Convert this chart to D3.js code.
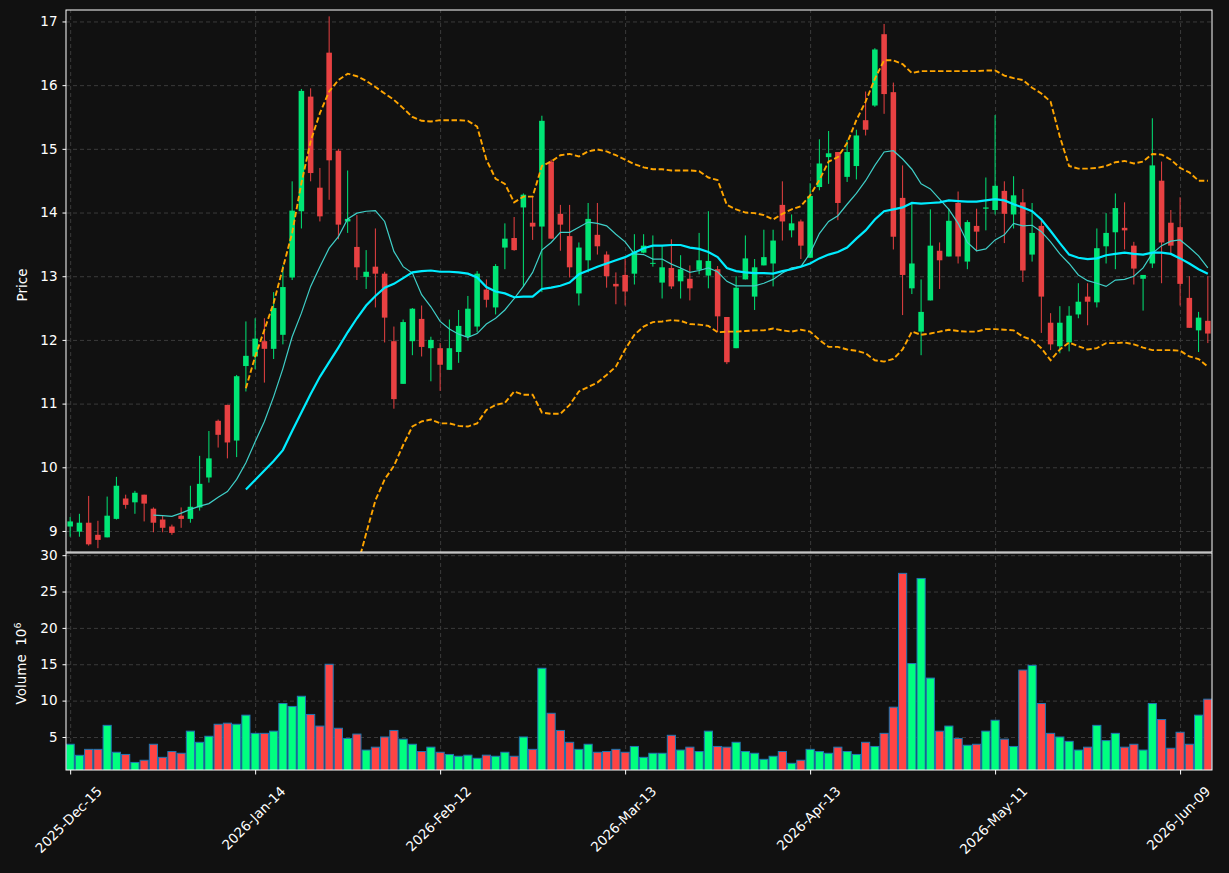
<!DOCTYPE html>
<html>
<head>
<meta charset="utf-8">
<script src="https://cdn.jsdelivr.net/npm/d3@7"></script>
<style>
  html, body { margin: 0; padding: 0; background: #111111; }
  svg { display: block; font-family: "DejaVu Sans", sans-serif; }
</style>
</head>
<body>
<div id="chart"></div>
<script>
// x tick positions (bar index) and their labels
const tickIndex = [0, 20, 40, 60, 80, 100, 120];
const tickLabels = ["2025-Dec-15", "2026-Jan-14", "2026-Feb-12", "2026-Mar-13", "2026-Apr-13", "2026-May-11", "2026-Jun-09"];
const priceTicks = [9, 10, 11, 12, 13, 14, 15, 16, 17];
const volumeTicks = [5, 10, 15, 20, 25, 30];

const opens = [
    9.07, 8.99, 9.13, 8.94, 8.90, 9.19, 9.51, 9.45, 9.57, 9.35,
    9.18, 9.07, 9.24, 9.19, 9.37, 9.84, 10.73, 10.98, 10.42, 11.59,
    11.74, 11.98, 11.86, 12.08, 12.98, 14.02, 15.82, 14.39, 16.51, 14.97,
    13.86, 13.46, 12.99, 13.15, 13.04, 11.98, 11.31, 11.98, 12.33, 11.87,
    11.87, 11.53, 11.81, 12.05, 12.21, 12.79, 12.51, 13.45, 13.60, 14.08,
    13.84, 13.78, 14.80, 13.98, 13.63, 12.73, 13.25, 13.65, 13.34, 12.88,
    13.02, 13.04, 13.37, 13.20, 12.90, 13.13, 12.92, 12.96, 13.10, 13.01,
    13.11, 12.36, 11.87, 12.95, 12.68, 13.17, 13.20, 14.12, 13.72, 13.86,
    13.29, 14.40, 14.87, 14.95, 14.56, 14.73, 15.45, 15.68, 16.80, 15.89,
    14.23, 12.81, 12.13, 12.62, 13.40, 13.31, 14.15, 13.23, 13.79, 14.06,
    14.04, 14.34, 13.97, 14.16, 13.34, 13.79, 12.27, 11.90, 11.96, 12.40,
    12.68, 12.59, 13.47, 13.69, 13.76, 13.48, 12.96, 13.20, 14.50, 13.84,
    13.77, 12.66, 12.15, 12.30
];
const highs = [
    9.22, 9.27, 9.55, 9.16, 9.54, 9.85, 9.57, 9.63, 9.57, 9.37,
    9.24, 9.10, 9.37, 9.71, 10.18, 10.57, 10.75, 10.98, 11.45, 12.29,
    12.34, 12.34, 12.75, 13.17, 14.49, 15.94, 15.95, 14.70, 17.08, 15.00,
    14.66, 13.96, 13.41, 13.75, 13.07, 12.21, 12.32, 12.50, 12.54, 12.05,
    11.95, 12.32, 12.47, 12.69, 13.08, 12.95, 13.19, 13.83, 13.93, 14.30,
    14.25, 15.52, 14.83, 14.12, 14.12, 13.53, 14.15, 14.15, 13.39, 13.06,
    13.28, 13.66, 13.66, 13.64, 13.47, 13.58, 13.33, 13.17, 13.68, 14.02,
    13.16, 12.36, 13.00, 13.64, 13.27, 13.73, 13.73, 14.49, 13.97, 13.89,
    14.46, 15.15, 15.28, 14.95, 15.14, 15.30, 15.90, 16.58, 16.96, 16.04,
    14.74, 14.14, 12.95, 14.05, 13.53, 14.06, 14.33, 13.88, 14.06, 14.55,
    15.53, 14.49, 14.57, 14.37, 14.15, 13.87, 12.42, 12.53, 12.53, 12.89,
    12.89, 13.75, 13.99, 14.30, 14.16, 13.54, 13.02, 15.48, 14.80, 14.04,
    14.24, 13.00, 12.44, 13.00
];
const lows = [
    8.91, 8.91, 8.77, 8.73, 8.90, 9.18, 9.35, 9.27, 9.15, 8.98,
    8.98, 8.94, 9.05, 9.13, 9.32, 9.76, 10.31, 10.14, 10.16, 11.19,
    11.54, 11.33, 11.70, 11.93, 12.94, 13.75, 14.49, 13.86, 14.20, 13.58,
    13.68, 12.94, 12.80, 12.51, 11.96, 10.92, 11.31, 11.76, 11.74, 11.35,
    11.20, 11.53, 11.64, 11.99, 12.12, 12.51, 12.40, 13.11, 13.40, 12.83,
    13.57, 12.75, 13.59, 13.40, 12.98, 12.54, 13.06, 13.34, 12.82, 12.56,
    12.54, 12.87, 13.36, 13.15, 12.65, 12.80, 12.65, 12.62, 13.03, 12.81,
    12.12, 11.62, 11.87, 12.95, 12.47, 13.17, 12.84, 13.56, 13.61, 13.27,
    13.29, 14.35, 14.45, 13.88, 14.48, 14.52, 15.21, 15.66, 15.55, 13.42,
    12.39, 12.72, 11.76, 12.62, 12.80, 13.31, 13.20, 13.11, 13.39, 13.72,
    13.97, 13.52, 13.75, 12.91, 13.23, 12.11, 11.84, 11.79, 11.82, 12.34,
    12.23, 12.51, 13.20, 13.11, 13.42, 12.87, 12.46, 13.13, 12.89, 13.35,
    12.54, 12.19, 11.81, 11.95
];
const closes = [
    9.15, 9.13, 8.79, 8.86, 9.24, 9.71, 9.41, 9.60, 9.43, 9.13,
    9.05, 8.97, 9.19, 9.38, 9.74, 10.14, 10.51, 10.39, 11.43, 11.75,
    12.02, 11.86, 12.50, 12.83, 14.03, 15.91, 14.62, 13.94, 14.82, 13.81,
    13.90, 13.14, 13.07, 13.04, 12.35, 11.07, 12.28, 12.49, 11.89, 12.00,
    11.61, 11.87, 12.22, 12.49, 13.04, 12.63, 13.16, 13.59, 13.41, 14.28,
    13.78, 15.44, 13.59, 13.81, 13.14, 13.45, 13.90, 13.47, 13.00, 12.84,
    12.76, 13.39, 13.48, 13.21, 13.14, 12.84, 13.11, 12.81, 13.25, 13.24,
    12.37, 11.65, 12.82, 13.28, 13.14, 13.30, 13.56, 13.86, 13.83, 13.48,
    14.26, 14.77, 14.93, 14.15, 14.95, 15.21, 15.30, 16.56, 15.86, 13.62,
    13.02, 13.20, 12.44, 13.48, 13.25, 13.87, 13.31, 13.85, 13.70, 14.08,
    14.42, 13.98, 14.27, 13.09, 13.68, 12.68, 11.93, 12.27, 12.38, 12.60,
    12.60, 13.44, 13.68, 14.07, 13.72, 13.12, 13.02, 14.74, 13.53, 13.48,
    12.88, 12.19, 12.35, 12.10
];
// volume in millions
const volumes = [
    4.0, 2.48, 3.3, 3.3, 6.6, 2.9, 2.6, 1.5, 1.8, 4.0,
    2.2, 3.0, 2.76, 5.8, 4.27, 5.1, 6.75, 6.9, 6.75, 8.0,
    5.5, 5.5, 5.8, 9.6, 9.2, 10.6, 8.1, 6.5, 15.0, 6.2,
    4.8, 5.4, 3.2, 3.6, 5.0, 5.9, 4.7, 4.0, 3.0, 3.6,
    2.9, 2.6, 2.35, 2.5, 2.07, 2.5, 2.35, 2.9, 2.35, 5.0,
    3.3, 14.45, 8.26, 5.9, 4.27, 3.3, 4.0, 2.9, 3.0, 3.3,
    2.9, 3.7, 2.2, 2.76, 2.76, 5.23, 3.2, 3.6, 3.0, 5.8,
    3.7, 3.6, 4.27, 3.0, 2.76, 1.93, 2.35, 3.0, 1.38, 1.8,
    3.3, 3.0, 2.76, 3.6, 3.0, 2.6, 4.27, 3.7, 5.5, 9.1,
    27.5, 15.1, 26.8, 13.1, 5.8, 6.5, 4.8, 3.86, 4.0, 5.8,
    7.3, 4.7, 3.7, 14.2, 14.85, 9.6, 5.5, 5.0, 4.4, 3.2,
    3.6, 6.6, 4.5, 5.5, 3.6, 4.0, 3.2, 9.6, 7.4, 3.45,
    5.65, 4.0, 8.0, 10.2
];

// indicator lines (null where not drawn)
const maFast = [
    null, null, null, null, null, null, null, null, null, 9.25,
    9.24, 9.23, 9.28, 9.34, 9.39, 9.43, 9.53, 9.62, 9.81, 10.07,
    10.40, 10.72, 11.11, 11.55, 12.05, 12.42, 12.84, 13.15, 13.44, 13.62,
    13.90, 13.99, 14.02, 14.03, 13.86, 13.39, 13.15, 13.05, 12.71, 12.52,
    12.29, 12.17, 12.09, 12.04, 12.10, 12.25, 12.34, 12.47, 12.65, 12.84,
    13.06, 13.41, 13.53, 13.69, 13.69, 13.77, 13.85, 13.83, 13.79, 13.66,
    13.54, 13.35, 13.34, 13.27, 13.27, 13.19, 13.13, 13.06, 13.09, 13.13,
    13.07, 12.92, 12.85, 12.85, 12.85, 12.89, 12.95, 13.05, 13.13, 13.15,
    13.36, 13.67, 13.86, 13.95, 14.13, 14.30, 14.50, 14.74, 14.95, 14.97,
    14.84, 14.68, 14.45, 14.37, 14.21, 14.05, 13.83, 13.53, 13.40, 13.43,
    13.57, 13.65, 13.83, 13.79, 13.80, 13.70, 13.54, 13.35, 13.20, 13.02,
    12.93, 12.89, 12.84, 12.94, 12.95, 13.00, 13.13, 13.36, 13.48, 13.55,
    13.57, 13.45, 13.32, 13.13
];
const maSlow = [
    null, null, null, null, null, null, null, null, null, null,
    null, null, null, null, null, null, null, null, null, 9.65,
    9.80, 9.95, 10.10, 10.27, 10.57, 10.86, 11.15, 11.42, 11.65, 11.88,
    12.12, 12.34, 12.54, 12.69, 12.82, 12.88, 12.97, 13.06, 13.08, 13.09,
    13.07, 13.07, 13.06, 13.04, 12.98, 12.83, 12.76, 12.73, 12.67, 12.68,
    12.68, 12.80, 12.82, 12.85, 12.90, 13.03, 13.09, 13.15, 13.20, 13.25,
    13.30, 13.37, 13.44, 13.48, 13.48, 13.49, 13.49, 13.45, 13.43, 13.38,
    13.30, 13.13, 13.08, 13.06, 13.05, 13.05, 13.04, 13.08, 13.11, 13.15,
    13.20, 13.28, 13.34, 13.38, 13.45, 13.59, 13.72, 13.89, 14.02, 14.05,
    14.08, 14.15, 14.14, 14.15, 14.16, 14.19, 14.18, 14.17, 14.17, 14.19,
    14.21, 14.19, 14.13, 14.08, 14.02, 13.89, 13.71, 13.52, 13.34, 13.29,
    13.27, 13.28, 13.33, 13.35, 13.37, 13.35, 13.34, 13.37, 13.37, 13.35,
    13.28, 13.20, 13.11, 13.04
];
const bandUpper = [
    null, null, null, null, null, null, null, null, null, null,
    null, null, null, null, null, null, null, null, null, 11.24,
    11.74, 12.16, 12.58, 13.13, 13.68, 14.46, 15.12, 15.56, 15.90, 16.08,
    16.18, 16.14, 16.07, 15.97, 15.87, 15.77, 15.64, 15.50, 15.44, 15.43,
    15.45, 15.45, 15.45, 15.44, 15.35, 14.83, 14.53, 14.45, 14.16, 14.25,
    14.25, 14.73, 14.80, 14.90, 14.92, 14.88, 14.96, 14.99, 14.96, 14.90,
    14.83, 14.76, 14.71, 14.68, 14.68, 14.66, 14.66, 14.66, 14.65, 14.55,
    14.51, 14.12, 14.05, 14.00, 13.99, 13.96, 13.89, 13.98, 14.05, 14.10,
    14.27, 14.51, 14.80, 14.87, 15.09, 15.45, 15.74, 16.10, 16.39, 16.39,
    16.33, 16.19, 16.22, 16.22, 16.22, 16.22, 16.22, 16.22, 16.22, 16.23,
    16.23, 16.15, 16.11, 16.08, 15.96, 15.87, 15.74, 15.19, 14.73, 14.69,
    14.69, 14.70, 14.73, 14.79, 14.81, 14.77, 14.80, 14.92, 14.91, 14.83,
    14.70, 14.63, 14.50, 14.50
];
const bandLower = [
    null, null, null, null, null, null, null, null, null, null,
    null, null, null, null, null, null, null, null, null, 8.06,
    7.86, 7.74, 7.62, 7.41, 7.44, 7.34, 7.16, 7.24, 7.32, 7.58,
    7.96, 8.42, 8.96, 9.48, 9.81, 10.02, 10.35, 10.64, 10.72, 10.75,
    10.69, 10.69, 10.65, 10.64, 10.69, 10.90, 10.98, 11.01, 11.19, 11.14,
    11.14, 10.86, 10.84, 10.84, 10.98, 11.19, 11.26, 11.33, 11.45, 11.58,
    11.85, 12.08, 12.21, 12.28, 12.29, 12.31, 12.30, 12.25, 12.24, 12.22,
    12.12, 12.13, 12.13, 12.14, 12.15, 12.15, 12.18, 12.15, 12.13, 12.16,
    12.13, 12.00, 11.89, 11.89, 11.85, 11.83, 11.79, 11.68, 11.66, 11.70,
    11.85, 12.13, 12.08, 12.10, 12.13, 12.16, 12.14, 12.13, 12.13, 12.17,
    12.17, 12.16, 12.15, 12.05, 12.00, 11.87, 11.68, 11.85, 11.96, 11.90,
    11.85, 11.87, 11.95, 11.95, 11.96, 11.93, 11.88, 11.84, 11.84, 11.84,
    11.83, 11.74, 11.70, 11.58
];

const W = 1229, H = 873;
const left = 66, right = 1212;
const priceTop = 10, priceBottom = 552;
const volTop = 553, volBottom = 770;

const upColor = "#00e676", downColor = "#e84142";
const volUp = "#00ff7f", volDown = "#ff4444";
const gridColor = "#3b3b3b";

const svg = d3.select("#chart")
    .append("svg")
    .attr("width", W)
    .attr("height", H);

svg.append("rect").attr("width", W).attr("height", H).attr("fill", "#111111");

const n = opens.length;
const x = d3.scaleLinear().domain([-0.45, n - 0.55]).range([left, right]);
const y = d3.scaleLinear().domain([8.67, 17.18]).range([priceBottom, priceTop]);
const yv = d3.scaleLinear().domain([0.46, 30.3]).range([volBottom, volTop]);
const step = x(1) - x(0);

const defs = svg.append("defs");
defs.append("clipPath").attr("id", "clipPrice")
    .append("rect").attr("x", left).attr("y", priceTop)
    .attr("width", right - left).attr("height", priceBottom - priceTop);
defs.append("clipPath").attr("id", "clipVol")
    .append("rect").attr("x", left).attr("y", volTop)
    .attr("width", right - left).attr("height", volBottom - volTop);

function createGrid(top, bottom, ys, ticks) {
    svg.append("g")
        .attr("transform", `translate(${left},0)`)
        .call(d3.axisLeft(ys).tickValues(ticks).tickSize(-(right - left)).tickFormat(""))
        .call(g => g.select(".domain").remove())
        .selectAll("line")
        .style("stroke", gridColor)
        .style("stroke-dasharray", "4,3");

    svg.append("g")
        .attr("transform", `translate(0,${bottom})`)
        .call(d3.axisBottom(x).tickValues(tickIndex).tickSize(-(bottom - top)).tickFormat(""))
        .call(g => g.select(".domain").remove())
        .selectAll("line")
        .style("stroke", gridColor)
        .style("stroke-dasharray", "4,3");
}

createGrid(priceTop, priceBottom, y, priceTicks);
createGrid(volTop, volBottom, yv, volumeTicks);

// candles
const idx = d3.range(n);
const candles = svg.append("g").attr("clip-path", "url(#clipPrice)");
const colorOf = i => closes[i] >= opens[i] ? upColor : downColor;

candles.selectAll(".wick")
    .data(idx)
    .enter()
    .append("line")
    .attr("class", "wick")
    .attr("x1", i => x(i)).attr("x2", i => x(i))
    .attr("y1", i => y(highs[i])).attr("y2", i => y(lows[i]))
    .attr("stroke", colorOf)
    .attr("stroke-width", 1);

const bodyW = step * 0.6;
candles.selectAll(".body")
    .data(idx)
    .enter()
    .append("rect")
    .attr("class", "body")
    .attr("x", i => x(i) - bodyW / 2)
    .attr("width", bodyW)
    .attr("y", i => y(Math.max(opens[i], closes[i])))
    .attr("height", i => Math.max(1, Math.abs(y(opens[i]) - y(closes[i]))))
    .attr("fill", colorOf);

// indicator lines
const line = d3.line()
    .defined(d => d != null)
    .x((d, i) => x(i))
    .y(d => y(d));

const lines = svg.append("g").attr("clip-path", "url(#clipPrice)");
lines.append("path").datum(maFast)
    .attr("d", line).attr("fill", "none")
    .attr("stroke", "#3fcfc8").attr("stroke-width", 1.2);
lines.append("path").datum(maSlow)
    .attr("d", line).attr("fill", "none")
    .attr("stroke", "#00ecff").attr("stroke-width", 2.2);
[bandUpper, bandLower].forEach(band => {
    lines.append("path").datum(band)
        .attr("d", line).attr("fill", "none")
        .attr("stroke", "#ffa500").attr("stroke-width", 1.9)
        .attr("stroke-dasharray", "5.5,2.6");
});

// volume bars
const volW = step * 0.88;
svg.append("g").attr("clip-path", "url(#clipVol)")
    .selectAll(".vol")
    .data(idx)
    .enter()
    .append("rect")
    .attr("class", "vol")
    .attr("x", i => x(i) - volW / 2)
    .attr("width", volW)
    .attr("y", i => yv(volumes[i]))
    .attr("height", i => volBottom + 2 - yv(volumes[i]))
    .attr("fill", i => closes[i] >= opens[i] ? volUp : volDown)
    .attr("stroke", "#1f77b4")
    .attr("stroke-width", 1);

// axes
function styleAxis(g) {
    g.select(".domain").remove();
    g.selectAll(".tick line").attr("stroke", "#ffffff");
    g.selectAll(".tick text")
        .attr("fill", "#ffffff")
        .style("font-size", "13.5px")
        .style("font-family", "DejaVu Sans, sans-serif");
}

svg.append("g")
    .attr("transform", `translate(${left},0)`)
    .call(d3.axisLeft(y).tickValues(priceTicks).tickSize(3.5).tickPadding(5).tickFormat(d3.format("d")))
    .call(styleAxis);

svg.append("g")
    .attr("transform", `translate(${left},0)`)
    .call(d3.axisLeft(yv).tickValues(volumeTicks).tickSize(3.5).tickPadding(5).tickFormat(d3.format("d")))
    .call(styleAxis);

const xAxis = svg.append("g")
    .attr("transform", `translate(0,${volBottom})`)
    .call(d3.axisBottom(x).tickValues(tickIndex).tickSize(4.5).tickFormat((d, i) => tickLabels[i]))
    .call(styleAxis);

xAxis.selectAll(".tick text")
    .attr("y", 0)
    .attr("dy", "0.35em")
    .style("text-anchor", "middle")
    .attr("transform", function () {
        const h = (this.getComputedTextLength() + 13.5) * Math.SQRT1_2;
        return `translate(-2,${14 + h / 2}) rotate(-45)`;
    });

// panel frames
[[priceTop, priceBottom], [volTop, volBottom]].forEach(([t, b]) => {
    svg.append("rect")
        .attr("x", left).attr("y", t)
        .attr("width", right - left).attr("height", b - t)
        .attr("fill", "none")
        .attr("stroke", "#ffffff")
        .attr("stroke-width", 1);
});

// axis labels
svg.append("text")
    .attr("transform", `translate(22,${(priceTop + priceBottom) / 2 + 4}) rotate(-90)`)
    .attr("text-anchor", "middle")
    .attr("dy", "0.35em")
    .attr("fill", "#ffffff")
    .style("font-size", "13.5px")
    .text("Price");

const volLabel = svg.append("text")
    .attr("transform", `translate(21,${(volTop + volBottom) / 2 + 2}) rotate(-90)`)
    .attr("text-anchor", "middle")
    .attr("dy", "0.35em")
    .attr("fill", "#ffffff")
    .style("font-size", "13.5px")
    .style("white-space", "pre");
volLabel.append("tspan").text("Volume  10");
volLabel.append("tspan").attr("dy", "-0.55em").style("font-size", "9.5px").text("6");
</script>
</body>
</html>
